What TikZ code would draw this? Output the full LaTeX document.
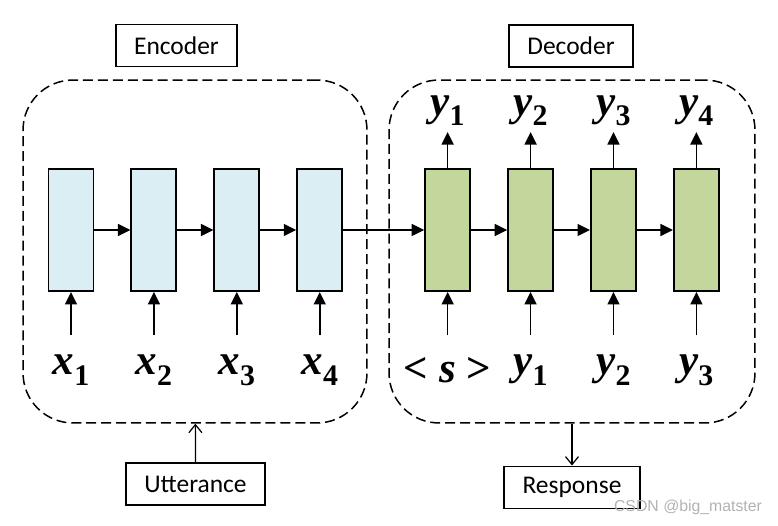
\documentclass[tikz,border=0pt]{standalone}
\usepackage{fontspec}
\setmainfont{Liberation Serif}
\newfontfamily\boxfont{Carlito}
\newfontfamily\markfont{Liberation Sans}
\usetikzlibrary{arrows.meta}
\usetikzlibrary{positioning}

\definecolor{encblue}{HTML}{DAEEF3}
\definecolor{decgreen}{HTML}{C3D69B}

\newcommand{\tok}[2]{{\bfseries\itshape #1}\raisebox{-6pt}{\fontsize{17}{17}\selectfont\bfseries #2}}

\begin{document}
\begin{tikzpicture}[x=0.02cm, y=-0.02cm, auto, >={Triangle[length=2.5mm,width=2.4mm]}]
	\tikzstyle{cell}=[rectangle, draw=black, line width=1.1pt, minimum width=0.9cm, minimum height=2.44cm, inner sep=0pt, node distance=0.72cm]
	\tikzstyle{enc}=[cell, fill=encblue]
	\tikzstyle{dec}=[cell, fill=decgreen]
	\tikzstyle{token}=[inner sep=0pt, font=\fontsize{24.5}{24.5}\selectfont]
	\tikzstyle{intoken}=[token, minimum height=1.4cm, node distance=0.86cm]
	\tikzstyle{outtoken}=[token, minimum height=0.84cm, node distance=0.72cm]
	\tikzstyle{connect}=[->, line width=0.9pt]
	\tikzstyle{open}=[-{Straight Barb[length=1.6mm,width=2.6mm]}, line width=0.7pt]
	\tikzstyle{group}=[rectangle, draw=black, rounded corners=1cm, line width=0.85pt, dash pattern=on 5.7pt off 2.8pt, inner sep=0pt, minimum height=6.86cm]
	\tikzstyle{tag}=[rectangle, draw=black, line width=1.1pt, minimum height=0.84cm, inner xsep=0.37cm, font=\boxfont\fontsize{14.5}{14.5}\selectfont]
	
	\useasboundingbox (0,0) rectangle (778,526);
	
	\node[enc] (enc1) at (71,230) {};
	\node[enc] (enc2) [right=of enc1] {};
	\node[enc] (enc3) [right=of enc2] {};
	\node[enc] (enc4) [right=of enc3] {};
	
	\node[dec, node distance=1.62cm] (dec1) [right=of enc4] {};
	\node[dec] (dec2) [right=of dec1] {};
	\node[dec] (dec3) [right=of dec2] {};
	\node[dec] (dec4) [right=of dec3] {};
	
	\node[intoken] (in1) [below=of enc1] {\tok{x}{1}};
	\node[intoken] (in2) [below=of enc2] {\tok{x}{2}};
	\node[intoken] (in3) [below=of enc3] {\tok{x}{3}};
	\node[intoken] (in4) [below=of enc4] {\tok{x}{4}};
	
	\node[intoken] (in5) [below=of dec1] {\bfseries < \textit{s} >};
	\node[intoken] (in6) [below=of dec2] {\tok{y}{1}};
	\node[intoken] (in7) [below=of dec3] {\tok{y}{2}};
	\node[intoken] (in8) [below=of dec4] {\tok{y}{3}};
	
	\node[outtoken] (out1) [above=of dec1] {\tok{y}{1}};
	\node[outtoken] (out2) [above=of dec2] {\tok{y}{2}};
	\node[outtoken] (out3) [above=of dec3] {\tok{y}{3}};
	\node[outtoken] (out4) [above=of dec4] {\tok{y}{4}};
	
	\node[group, minimum width=6.88cm] (encgroup) at (195,251.5) {};
	\node[group, minimum width=7.32cm] (decgroup) at (572,251.5) {};
	
	\node[tag] (enctag) at (176.5,45.5) {Encoder};
	\node[tag] (dectag) at (571,46) {Decoder};
	\node[tag] (utt) at (195.5,484) {Utterance};
	\node[tag] (resp) at (572,487.5) {Response};
	
	\node[text=gray!60, font=\markfont\fontsize{9}{9}\selectfont] (mark) at (688,507) {CSDN @big\_matster};
	
	\path (in1) edge [connect] (enc1)
	(in2) edge [connect] (enc2)
	(in3) edge [connect] (enc3)
	(in4) edge [connect] (enc4)
	
	(in5) edge [connect] (dec1)
	(in6) edge [connect] (dec2)
	(in7) edge [connect] (dec3)
	(in8) edge [connect] (dec4)
	
	(enc1) edge [connect] (enc2)
	(enc2) edge [connect] (enc3)
	(enc3) edge [connect] (enc4)
	(enc4) edge [connect, line width=0.6pt] (dec1)
	(dec1) edge [connect] (dec2)
	(dec2) edge [connect] (dec3)
	(dec3) edge [connect] (dec4)
	
	(dec1) edge [connect] (out1)
	(dec2) edge [connect] (out2)
	(dec3) edge [connect] (out3)
	(dec4) edge [connect] (out4)
	
	(utt) edge [open] (encgroup)
	(decgroup) edge [open] (resp);
	
\end{tikzpicture}
\end{document}
